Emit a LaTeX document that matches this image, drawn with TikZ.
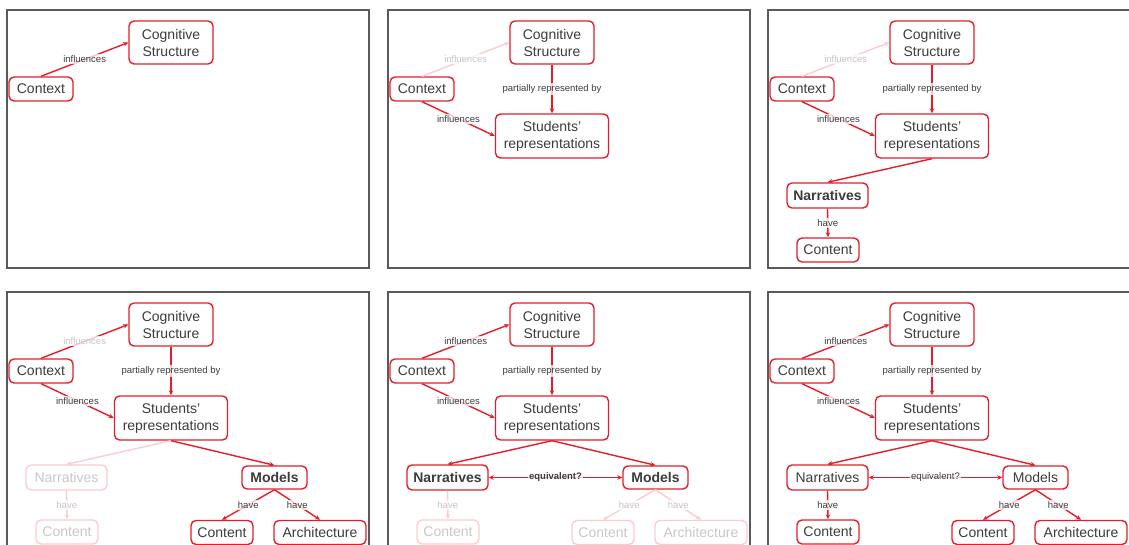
\documentclass[tikz,border=0pt]{standalone}
\usepackage{fontspec}
\setmainfont{Liberation Sans}
\usetikzlibrary{arrows.meta}
\definecolor{mapred}{HTML}{E31E2A}
\definecolor{txt}{HTML}{3C3C3C}
\definecolor{framegray}{HTML}{5A5A5A}
\tikzset{
  frame/.style={draw=framegray, line width=1.1pt},
  concept/.style={draw=mapred, line width=1.4pt, rounded corners=5pt, fill=white,
    text=txt, font=\fontsize{14}{17}\selectfont, align=center, inner sep=0pt,
    minimum height=24pt},
  strong/.style={font=\fontsize{14}{17}\selectfont\bfseries},
  faded/.style={draw=mapred!22, text=txt!28},
  ctxbox/.style={concept, minimum width=64pt},
  cogbox/.style={concept, minimum width=84pt, minimum height=43pt},
  stubox/.style={concept, minimum width=113pt, minimum height=44pt},
  narbox/.style={concept, minimum width=81pt, minimum height=25pt},
  conbox/.style={concept, minimum width=62pt},
  modbox/.style={concept, minimum width=65pt, minimum height=23pt},
  archbox/.style={concept, minimum width=92pt},
  link/.style={draw=mapred, line width=1.4pt, -{Stealth[length=5pt,width=4.5pt]}},
  twoway/.style={draw=mapred, line width=1.4pt, {Stealth[length=5pt,width=4.5pt]}-{Stealth[length=5pt,width=4.5pt]}},
  fadedlink/.style={draw=mapred!22},
  lbl/.style={font=\fontsize{9.5}{11}\selectfont, text=txt, fill=white,
    fill opacity=0.75, text opacity=1, inner sep=1.5pt},
  strongl/.style={font=\fontsize{9.5}{11}\selectfont\bfseries},
  fadedlbl/.style={text=txt!30},
}
\begin{document}
\begin{tikzpicture}[x=1pt, y=-1pt]
\useasboundingbox (0,0) rectangle (1129,545);
\clip (0,0) rectangle (1129,545);

% ---------- panel 1 ----------
\begin{scope}[shift={(7,10)}]
  \draw[frame] (0,0) rectangle (362,258);
  \node[ctxbox] (actx) at (34,79) {Context};
  \node[cogbox] (acog) at (164,32.5) {Cognitive\\Structure};
  \draw[link] (actx.north) -- node[lbl] {influences} (acog.west);
\end{scope}

% ---------- panel 2 ----------
\begin{scope}[shift={(388,10)}]
  \draw[frame] (0,0) rectangle (362,258);
  \node[ctxbox] (bctx) at (34,79) {Context};
  \node[cogbox] (bcog) at (164,32.5) {Cognitive\\Structure};
  \node[stubox] (bstu) at (164,126) {Students’\\representations};
  \draw[link, fadedlink] (bctx.north) -- node[lbl, fadedlbl] {influences} (bcog.west);
  \draw[link] (bcog.south) -- node[lbl] {partially represented by} (bstu.north);
  \draw[link] (bctx.south) -- node[lbl] {influences} (bstu.west);
\end{scope}

% ---------- panel 3 ----------
\begin{scope}[shift={(768,10)}]
  \draw[frame] (0,0) rectangle (362,258);
  \node[ctxbox] (cctx) at (34,79) {Context};
  \node[cogbox] (ccog) at (164,32.5) {Cognitive\\Structure};
  \node[stubox] (cstu) at (164,126) {Students’\\representations};
  \node[narbox, strong] (cnar) at (59.5,185.5) {Narratives};
  \node[conbox] (ccon) at (60,240) {Content};
  \draw[link, fadedlink] (cctx.north) -- node[lbl, fadedlbl] {influences} (ccog.west);
  \draw[link] (ccog.south) -- node[lbl] {partially represented by} (cstu.north);
  \draw[link] (cctx.south) -- node[lbl] {influences} (cstu.west);
  \draw[link] (cstu.south) -- (cnar.north);
  \draw[link] (cnar.south) -- node[lbl] {have} (ccon.north);
\end{scope}

% ---------- panel 4 ----------
\begin{scope}[shift={(7,292)}]
  \draw[frame] (0,0) rectangle (362,258);
  \node[ctxbox] (dctx) at (34,79) {Context};
  \node[cogbox] (dcog) at (164,32.5) {Cognitive\\Structure};
  \node[stubox] (dstu) at (164,126) {Students’\\representations};
  \node[narbox, faded] (dnar) at (59.5,185.5) {Narratives};
  \node[conbox, faded] (dcon) at (60,240) {Content};
  \node[modbox, strong] (dmod) at (267.5,185.5) {Models};
  \node[conbox] (dmcon) at (215,240.5) {Content};
  \node[archbox] (darch) at (313,240.5) {Architecture};
  \draw[link] (dctx.north) -- node[lbl, fadedlbl] {influences} (dcog.west);
  \draw[link] (dcog.south) -- node[lbl] {partially represented by} (dstu.north);
  \draw[link] (dctx.south) -- node[lbl] {influences} (dstu.west);
  \draw[link, fadedlink] (dstu.south) -- (dnar.north);
  \draw[link, fadedlink] (dnar.south) -- node[lbl, fadedlbl] {have} (dcon.north);
  \draw[link] (dstu.south) -- (dmod.north);
  \draw[link] (dmod.south) -- node[lbl] {have} (dmcon.north);
  \draw[link] (dmod.south) -- node[lbl] {have} (darch.north);
\end{scope}

% ---------- panel 5 ----------
\begin{scope}[shift={(388,292)}]
  \draw[frame] (0,0) rectangle (362,258);
  \node[ctxbox] (ectx) at (34,79) {Context};
  \node[cogbox] (ecog) at (164,32.5) {Cognitive\\Structure};
  \node[stubox] (estu) at (164,126) {Students’\\representations};
  \node[narbox, strong] (enar) at (59.5,185.5) {Narratives};
  \node[conbox, faded] (econ) at (60,240) {Content};
  \node[modbox, strong] (emod) at (267.5,185.5) {Models};
  \node[conbox, faded] (emcon) at (215,240.5) {Content};
  \node[archbox, faded] (earch) at (313,240.5) {Architecture};
  \draw[link] (ectx.north) -- node[lbl] {influences} (ecog.west);
  \draw[link] (ecog.south) -- node[lbl] {partially represented by} (estu.north);
  \draw[link] (ectx.south) -- node[lbl] {influences} (estu.west);
  \draw[link] (estu.south) -- (enar.north);
  \draw[link] (estu.south) -- (emod.north);
  \draw[twoway] (enar.east) -- node[lbl, strongl] {equivalent?} (emod.west);
  \draw[link, fadedlink] (enar.south) -- node[lbl, fadedlbl] {have} (econ.north);
  \draw[link, fadedlink] (emod.south) -- node[lbl, fadedlbl] {have} (emcon.north);
  \draw[link, fadedlink] (emod.south) -- node[lbl, fadedlbl] {have} (earch.north);
\end{scope}

% ---------- panel 6 ----------
\begin{scope}[shift={(768,292)}]
  \draw[frame] (0,0) rectangle (362,258);
  \node[ctxbox] (fctx) at (34,79) {Context};
  \node[cogbox] (fcog) at (164,32.5) {Cognitive\\Structure};
  \node[stubox] (fstu) at (164,126) {Students’\\representations};
  \node[narbox] (fnar) at (59.5,185.5) {Narratives};
  \node[conbox] (fcon) at (60,240) {Content};
  \node[modbox] (fmod) at (267.5,185.5) {Models};
  \node[conbox] (fmcon) at (215,240.5) {Content};
  \node[archbox] (farch) at (313,240.5) {Architecture};
  \draw[link] (fctx.north) -- node[lbl] {influences} (fcog.west);
  \draw[link] (fcog.south) -- node[lbl] {partially represented by} (fstu.north);
  \draw[link] (fctx.south) -- node[lbl] {influences} (fstu.west);
  \draw[link] (fstu.south) -- (fnar.north);
  \draw[link] (fstu.south) -- (fmod.north);
  \draw[twoway] (fnar.east) -- node[lbl] {equivalent?} (fmod.west);
  \draw[link] (fnar.south) -- node[lbl] {have} (fcon.north);
  \draw[link] (fmod.south) -- node[lbl] {have} (fmcon.north);
  \draw[link] (fmod.south) -- node[lbl] {have} (farch.north);
\end{scope}
\end{tikzpicture}
\end{document}
